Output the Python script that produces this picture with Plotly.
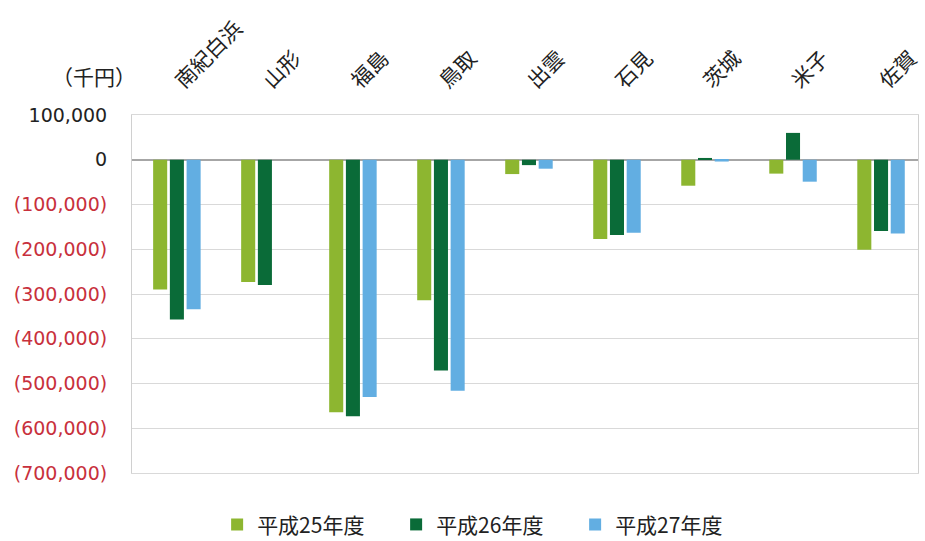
import plotly.graph_objects as go

airports = ["南紀白浜", "山形", "福島", "鳥取", "出雲", "石見", "茨城", "米子", "佐賀"]
fy25 = [-290000, -273000, -564000, -314000, -32000, -177000, -58000, -31000, -201000]
fy26 = [-357000, -280000, -573000, -471000, -12000, -168000, 4000, 60000, -159000]
fy27 = [-334000, 0, -530000, -516000, -20000, -163000, -4000, -49000, -165000]
series_names = ["平成25年度", "平成26年度", "平成27年度"]
series_colors = ["#8DB630", "#0A6B38", "#62AEE2"]

tick_values = list(range(100000, -700001, -100000))


def fmt_tick(v):
    if v < 0:
        return f"<span style='color:#C8303C'>({-v:,})</span>"
    return f"<span style='color:#222222'>{v:,}</span>"


tick_text = [fmt_tick(v) for v in tick_values]

font_family = "Noto Sans CJK JP, Noto Sans, sans-serif"

fig = go.Figure()
for name, vals, color in zip(series_names, [fy25, fy26, fy27], series_colors):
    fig.add_trace(go.Bar(
        x=list(range(len(airports))),
        y=vals,
        name=name,
        marker=dict(color=color, line=dict(width=0)),
    ))

fig.update_layout(
    width=925,
    height=541,
    margin=dict(l=132, r=7, t=115, b=68, autoexpand=False),
    paper_bgcolor="white",
    plot_bgcolor="white",
    barmode="group",
    bargap=0.43,
    bargroupgap=0.16,
    font=dict(family=font_family, color="#222222"),
    showlegend=True,
    legend=dict(
        orientation="h",
        xref="container", yref="container",
        x=0.525, xanchor="center",
        y=0.03, yanchor="middle",
        font=dict(size=21, color="#222222"),
        itemwidth=30,
        entrywidth=134,
        entrywidthmode="pixels",
        traceorder="normal",
    ),
    xaxis=dict(
        side="top",
        tickmode="array",
        tickvals=list(range(len(airports))),
        ticktext=airports,
        tickangle=-45,
        tickfont=dict(size=21, color="#222222"),
        range=[-0.51, 8.42],
        showgrid=False,
        zeroline=False,
        showline=True,
        linecolor="#D9D9D9",
        linewidth=1,
        mirror=True,
        ticks="",
        ticklabelstandoff=13,
    ),
    yaxis=dict(
        range=[-700000, 100000],
        tickmode="array",
        tickvals=tick_values,
        ticktext=tick_text,
        tickfont=dict(size=19, family="DejaVu Sans, sans-serif"),
        showgrid=True,
        gridcolor="#D9D9D9",
        gridwidth=1,
        zeroline=True,
        zerolinecolor="#A6A6A6",
        zerolinewidth=1.5,
        showline=True,
        linecolor="#D0D0D0",
        linewidth=1,
        mirror=True,
        ticks="",
        ticklabelstandoff=20,
    ),
    annotations=[
        dict(
            text="（千円）",
            xref="paper", yref="paper",
            x=0.0, y=1.0, xanchor="right", yanchor="bottom",
            xshift=6, yshift=22,
            showarrow=False,
            font=dict(size=21, color="#222222", family=font_family),
        )
    ],
)

fig.write_html("out.html")
